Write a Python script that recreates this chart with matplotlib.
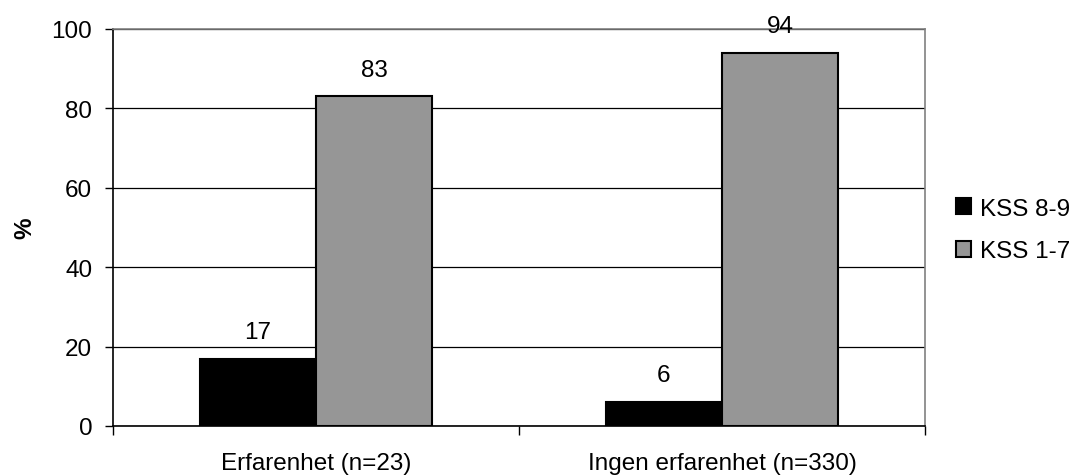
import matplotlib
matplotlib.use("Agg")
import matplotlib.pyplot as plt
import numpy as np

plt.rcParams['font.family'] = ['Liberation Sans', 'DejaVu Sans']

categories = ["Erfarenhet (n=23)", "Ingen erfarenhet (n=330)"]
series_names = ["KSS 8-9", "KSS 1-7"]
kss_8_9 = [17, 6]
kss_1_7 = [83, 94]
y_ticks = [0, 20, 40, 60, 80, 100]

colors = ["#000000", "#969696"]
fs = 17.5

fig = plt.figure(figsize=(10.81, 4.77), dpi=100)
ax = fig.add_axes([113 / 1081, 1 - 427 / 477, 812 / 1081, 397 / 477])

centers = np.arange(len(categories)) + 0.5
w = 1 / 3.5
bars = []
for i, (vals, name, c) in enumerate(zip([kss_8_9, kss_1_7], series_names, colors)):
    b = ax.bar(centers + (i - 0.5) * w, vals, width=w, color=c,
               edgecolor="black", linewidth=1.5, label=name, zorder=3)
    bars.append(b)
    for rect, v in zip(b, vals):
        ax.annotate(f"{v}", (rect.get_x() + rect.get_width() / 2, v),
                    xytext=(0, 15), textcoords="offset points",
                    ha="center", va="baseline", fontsize=fs)

ax.set_xlim(0, len(categories))
ax.set_ylim(0, 100)
ax.set_yticks(y_ticks)
ax.set_yticklabels([str(t) for t in y_ticks], fontsize=fs)
ax.yaxis.grid(True, color="black", linewidth=0.9, zorder=0)
ax.set_axisbelow(True)

ax.set_xticks(centers)
ax.set_xticklabels(categories, fontsize=fs)
ax.set_xticks(np.arange(len(categories) + 1), minor=True)
ax.tick_params(axis="x", which="major", length=0, pad=19)
ax.tick_params(axis="x", which="minor", length=6.5, width=1, direction="out")
ax.tick_params(axis="y", length=6, width=1, direction="out", pad=9)

for side in ("left", "bottom"):
    ax.spines[side].set_color("black")
    ax.spines[side].set_linewidth(1.2)
for side in ("top", "right"):
    ax.spines[side].set_color("#808080")
    ax.spines[side].set_linewidth(1.2)

ax.set_ylabel("%", fontsize=fs, fontweight="bold")
ax.yaxis.set_label_coords(-0.094, 0.5)

fig.legend(handles=[bars[0], bars[1]], labels=series_names, loc="center left",
           bbox_to_anchor=(956 / 1081, 1 - 231 / 477), frameon=False,
           fontsize=fs, handlelength=0.62, handleheight=0.62, handletextpad=0.35,
           labelspacing=0.85, borderaxespad=0, borderpad=0)

fig.savefig("out.png", dpi=100)
